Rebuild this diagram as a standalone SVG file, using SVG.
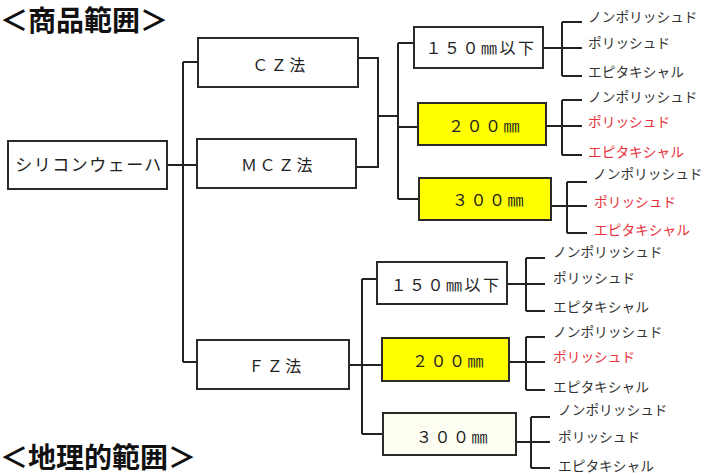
<svg xmlns="http://www.w3.org/2000/svg" width="706" height="475" viewBox="0 0 706 475">
<style>
text{font-family:"Noto Sans CJK JP","Noto Sans",sans-serif;fill:#222}
.title{font-size:28px;font-weight:bold;fill:#111}
.box{stroke:#2a2a2a;stroke-width:2;fill:#fff}
.yel{fill:#ffff00}
.ivory{fill:#fefef2}
.lbl{font-size:16px;letter-spacing:2.5px;text-anchor:middle}
.leaf{font-size:13.7px;fill:#333}
.red{fill:#e8303a}
.conn{fill:none;stroke:#222;stroke-width:2}
</style>
<rect width="706" height="475" fill="#fff"/>
<text class="title" x="0" y="31">＜商品範囲＞</text>
<text class="title" x="0" y="468">＜地理的範囲＞</text>

<g id="connectors" class="conn">
<path d="M167 165H197"/>
<path d="M183 62V362"/>
<path d="M183 62H198"/>
<path d="M183 362H197"/>
<path d="M358 58H378V167H356"/>
<path d="M378 116H398"/>
<path d="M398 43V199"/>
<path d="M398 43H414M398 127H418M398 199H419"/>
<path d="M543 48H562M562 22V76M562 22H582M562 48H582M562 76H582"/>
<path d="M546 126H562M562 100V155M562 100H582M562 126H582M562 155H582"/>
<path d="M551 206H567M567 182V233M567 182H587M567 206H587M567 233H587"/>
<path d="M349 365H362M362 279V434M362 279H377M362 365H382M362 434H383"/>
<path d="M507 284H526M526 258V311M526 258H545M526 284H545M526 311H545"/>
<path d="M509 362H526M526 337V390M526 337H545M526 362H545M526 390H545"/>
<path d="M516 442H531M531 417V468M531 417H550M531 442H550M531 468H550"/>
</g>

<g id="root"><rect class="box" x="8" y="141" width="159" height="48"/><text class="lbl" x="89" y="171" style="font-size:17px;letter-spacing:1.5px">シリコンウェーハ</text></g>
<g id="cz"><rect class="box" x="198" y="38" width="160" height="49"/><text class="lbl" x="280" y="71">ＣＺ法</text></g>
<g id="mcz"><rect class="box" x="197" y="139" width="159" height="49"/><text class="lbl" x="278" y="171">ＭＣＺ法</text></g>
<g id="fz"><rect class="box" x="197" y="340" width="152" height="49"/><text class="lbl" x="276" y="372">ＦＺ法</text></g>

<g id="cz150"><rect class="box" x="414" y="27" width="129" height="41"/><text class="lbl" x="481" y="54">１５０㎜以下</text></g>
<g id="cz200"><rect class="box yel" x="418" y="103" width="128" height="42"/><text class="lbl" x="485" y="132">２００㎜</text></g>
<g id="cz300"><rect class="box yel" x="419" y="178" width="132" height="42"/><text class="lbl" x="489" y="206">３００㎜</text></g>
<g id="fz150"><rect class="box" x="377" y="262" width="130" height="42"/><text class="lbl" x="446" y="291">１５０㎜以下</text></g>
<g id="fz200"><rect class="box yel" x="382" y="338" width="127" height="43"/><text class="lbl" x="449" y="367">２００㎜</text></g>
<g id="fz300"><rect class="box ivory" x="383" y="413" width="133" height="42"/><text class="lbl" x="453" y="443">３００㎜</text></g>

<g id="cz150-leaves">
<text class="leaf" x="588" y="22">ノンポリッシュド</text>
<text class="leaf" x="588" y="48">ポリッシュド</text>
<text class="leaf" x="588" y="77">エピタキシャル</text>
</g>
<g id="cz200-leaves">
<text class="leaf" x="588" y="102">ノンポリッシュド</text>
<text class="leaf red" x="588" y="127">ポリッシュド</text>
<text class="leaf red" x="588" y="157">エピタキシャル</text>
</g>
<g id="cz300-leaves">
<text class="leaf" x="593" y="179">ノンポリッシュド</text>
<text class="leaf red" x="594" y="207">ポリッシュド</text>
<text class="leaf red" x="594" y="235">エピタキシャル</text>
</g>
<g id="fz150-leaves">
<text class="leaf" x="553" y="257">ノンポリッシュド</text>
<text class="leaf" x="553" y="283">ポリッシュド</text>
<text class="leaf" x="553" y="312">エピタキシャル</text>
</g>
<g id="fz200-leaves">
<text class="leaf" x="553" y="337">ノンポリッシュド</text>
<text class="leaf red" x="553" y="362">ポリッシュド</text>
<text class="leaf" x="553" y="392">エピタキシャル</text>
</g>
<g id="fz300-leaves">
<text class="leaf" x="558" y="415">ノンポリッシュド</text>
<text class="leaf" x="558" y="442">ポリッシュド</text>
<text class="leaf" x="558" y="471">エピタキシャル</text>
</g>
</svg>
